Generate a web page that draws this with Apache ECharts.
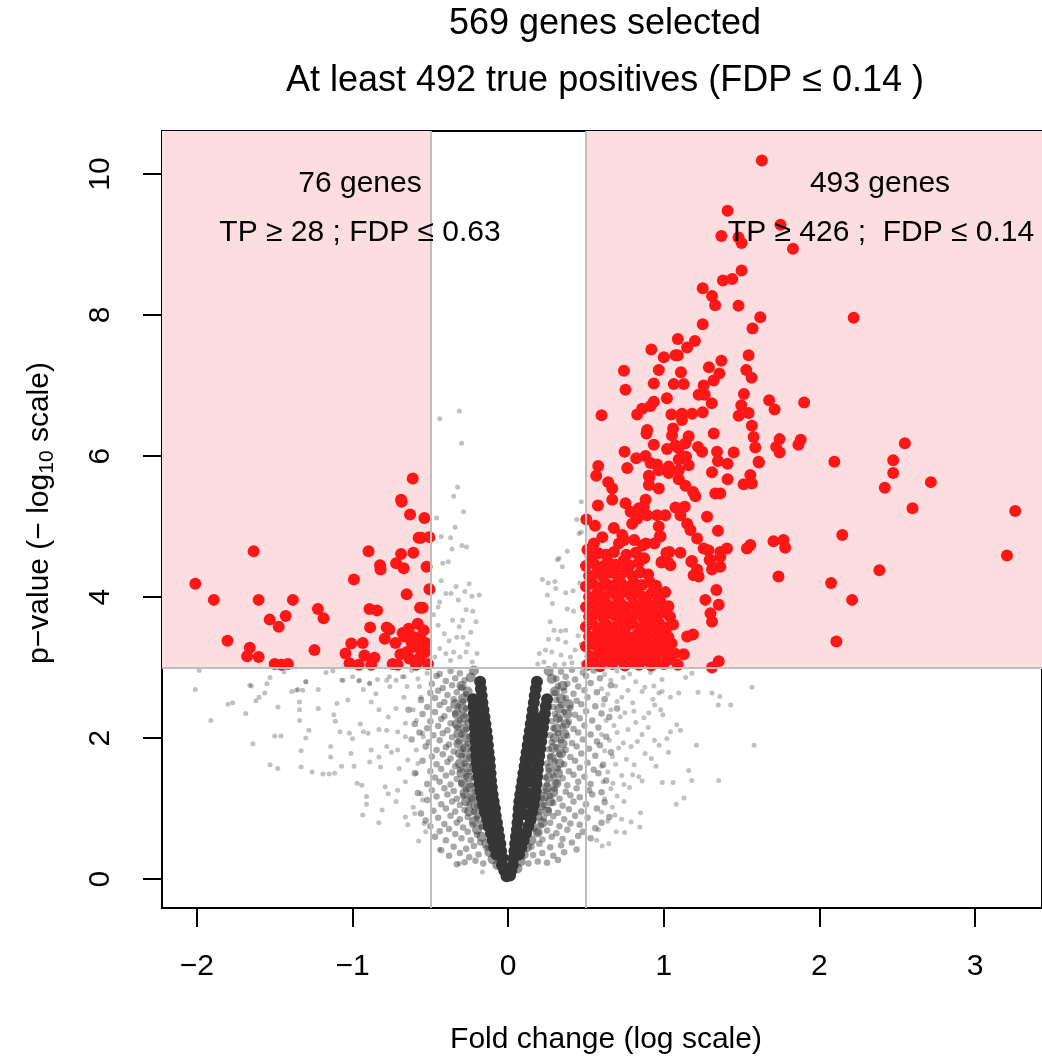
<!DOCTYPE html>
<html>
<head>
<meta charset="utf-8">
<script src="https://cdn.jsdelivr.net/npm/echarts@6/dist/echarts.min.js"></script>
<style>
html,body{margin:0;padding:0;background:#fff;}
#chart{width:1042px;height:1057px;}
</style>
</head>
<body>
<div id="chart"></div>
<script>
// ---------------- data ----------------
const xTicks = [-2, -1, 0, 1, 2, 3];
const yTicks = [0, 2, 4, 6, 8, 10];
const fcCut = 0.5;      // fold-change thresholds (±)
const pCut = 3;         // -log10 p threshold
const xRange = [-2.224, 3.43];
const yRange = [-0.41, 10.61];

const titleLines = ['569 genes selected', 'At least 492 true positives (FDP \u2264 0.14 )'];
const leftNote = ['76 genes', 'TP \u2265 28 ; FDP \u2264 0.63'];
const rightNote = ['493 genes', 'TP \u2265 426 ;  FDP \u2264 0.14'];

// selected genes, left (down-regulated)
const redLeft = [[-0.613,5.68],[-0.688,5.38],[-0.684,5.35],[-0.63,5.17],[-0.538,5.12],[-0.575,4.84],[-0.56,4.84],[-0.506,4.85],[-0.897,4.65],[-1.635,4.65],[-0.688,4.61],[-0.609,4.63],[-0.823,4.45],[-0.82,4.39],[-0.72,4.48],[-0.671,4.41],[-0.524,4.43],[-2.01,4.19],[-0.991,4.25],[-0.506,4.11],[-0.652,4.04],[-1.891,3.96],[-1.603,3.96],[-1.383,3.96],[-1.222,3.83],[-1.186,3.70],[-0.891,3.83],[-0.842,3.81],[-0.566,3.85],[-0.549,3.85],[-1.532,3.68],[-1.429,3.73],[-1.474,3.58],[-0.887,3.57],[-0.78,3.57],[-0.763,3.54],[-0.581,3.62],[-0.639,3.55],[-0.543,3.53],[-1.803,3.38],[-0.793,3.41],[-0.678,3.49],[-0.667,3.44],[-0.603,3.43],[-0.56,3.40],[-1.008,3.34],[-0.934,3.35],[-0.724,3.35],[-1.66,3.28],[-1.677,3.16],[-1.603,3.15],[-1.244,3.25],[-1.045,3.20],[-0.923,3.17],[-0.859,3.14],[-0.692,3.19],[-0.613,3.29],[-0.549,3.27],[-0.534,3.22],[-0.635,3.13],[-0.581,3.11],[-0.56,3.18],[-1.50,3.05],[-1.457,3.04],[-1.415,3.05],[-1.019,3.06],[-0.96,3.04],[-0.88,3.04],[-0.742,3.05],[-0.71,3.04],[-0.592,3.04],[-0.62,3.36],[-0.575,3.30],[-0.53,3.35],[-0.65,3.22],[-0.515,3.05]];

// selected genes, right (up-regulated): sparse part
const redRightSparse = [[1.63,10.19],[1.41,9.48],[1.75,9.28],[1.37,9.12],[1.48,9.10],[1.50,9.02],[1.83,8.94],[1.50,8.63],[1.38,8.49],[1.44,8.51],[1.25,8.38],[1.31,8.27],[1.33,8.14],[1.48,8.13],[1.62,7.97],[2.22,7.96],[1.57,7.81],[1.25,7.87],[1.09,7.66],[1.20,7.63],[1.15,7.54],[0.92,7.51],[1.00,7.40],[1.075,7.43],[1.09,7.43],[1.37,7.35],[1.545,7.43],[0.744,7.21],[0.968,7.22],[1.11,7.19],[1.29,7.26],[1.53,7.22],[1.357,7.17],[1.564,7.11],[1.32,7.07],[0.936,7.03],[1.064,7.02],[1.128,7.02],[0.754,6.94],[1.256,7.0],[1.224,6.87],[1.263,6.87],[1.02,6.82],[1.515,6.88],[1.677,6.79],[1.712,6.66],[1.902,6.76],[0.936,6.77],[0.861,6.67],[0.829,6.59],[0.60,6.58],[1.308,6.75],[1.498,6.72],[1.049,6.59],[1.117,6.60],[1.181,6.60],[1.25,6.62],[1.481,6.57],[1.545,6.61],[0.915,6.71],[1.117,6.51],[1.566,6.43],[1.577,6.27],[1.588,6.12],[1.611,5.91],[1.744,6.24],[1.722,6.13],[1.744,6.05],[1.88,6.23],[1.865,6.16],[0.893,6.37],[0.889,6.32],[1.06,6.39],[1.053,6.29],[1.16,6.28],[1.139,6.18],[1.075,6.15],[1.096,6.11],[0.936,6.16],[1.021,6.10],[0.748,6.06],[1.22,6.13],[1.246,6.06],[1.321,6.32],[1.342,6.06],[1.348,5.93],[1.41,5.89],[1.449,6.05],[0.823,5.97],[0.883,6.0],[0.765,5.83],[0.579,5.86],[0.566,5.72],[0.915,5.90],[0.957,5.88],[0.968,5.80],[0.904,5.72],[1.032,5.85],[1.096,5.80],[1.096,5.95],[1.143,5.99],[1.16,5.87],[1.31,5.77],[1.41,5.67],[1.513,5.60],[1.556,5.73],[1.566,5.61],[1.331,5.47],[1.363,5.47],[1.188,5.49],[1.203,5.43],[1.278,5.14],[1.348,4.94],[1.406,4.69],[1.363,4.64],[1.534,4.69],[1.556,4.74],[1.705,4.79],[1.769,4.81],[1.78,4.70],[1.737,4.29],[1.214,4.83],[1.15,5.04],[1.171,4.95],[1.107,4.63],[1.177,4.50],[1.214,4.39],[1.224,4.29],[1.192,4.31],[1.295,4.53],[1.31,4.39],[1.363,4.43],[1.338,4.10],[1.267,3.96],[1.353,3.89],[1.30,3.77],[1.31,3.65],[1.188,3.47],[1.15,3.44],[1.128,3.19],[1.353,3.09],[1.31,3.0],[1.043,4.45],[0.989,4.50],[1.036,4.64],[2.549,6.18],[2.474,5.94],[2.474,5.76],[2.42,5.55],[2.716,5.63],[2.096,5.92],[2.598,5.26],[3.258,5.22],[3.205,4.59],[2.147,4.88],[2.385,4.38],[2.075,4.20],[2.21,3.96],[2.109,3.37],[1.609,5.92],[0.643,5.63],[0.669,5.54],[0.669,5.38],[0.577,5.30],[0.754,5.33],[0.787,5.21],[0.84,5.26],[0.883,5.38],[0.872,5.28],[0.893,5.16],[0.829,5.11],[0.797,5.04],[0.957,5.16],[1.01,5.16],[0.968,5.0],[0.979,4.86],[1.075,5.27],[1.135,5.28],[1.107,5.16],[0.968,5.54],[0.908,5.70],[0.904,5.59],[1.032,5.76],[1.096,5.67],[1.139,5.58],[0.502,5.10],[0.509,4.67],[0.558,5.01],[0.551,4.76],[0.605,4.85],[0.679,4.98],[0.733,4.88],[0.712,4.76],[0.744,4.81],[0.81,4.81],[0.863,4.73],[0.885,4.76],[0.874,4.55],[0.94,4.76],[0.974,4.86],[1.017,4.63],[0.985,4.49],[1.028,4.49],[1.181,4.51],[1.256,4.69],[1.288,4.66],[1.30,4.52],[1.363,4.57]];

// selected genes, right: the dense block near the thresholds
const redRightDense = [[0.51,3.04],[0.55,3.08],[0.59,3.02],[0.63,3.10],[0.67,3.05],[0.71,3.12],[0.75,3.03],[0.79,3.09],[0.84,3.04],[0.88,3.11],[0.92,3.03],[0.96,3.08],[1.00,3.05],[1.04,3.12],[1.09,3.04],[0.53,3.16],[0.58,3.20],[0.62,3.17],[0.66,3.22],[0.70,3.18],[0.74,3.23],[0.78,3.17],[0.82,3.21],[0.86,3.16],[0.90,3.22],[0.94,3.18],[0.98,3.24],[1.02,3.19],[1.07,3.20],[0.50,3.30],[0.55,3.33],[0.60,3.28],[0.64,3.34],[0.68,3.30],[0.73,3.36],[0.77,3.29],[0.81,3.33],[0.85,3.28],[0.89,3.35],[0.93,3.31],[0.97,3.37],[1.01,3.30],[1.05,3.34],[0.52,3.44],[0.57,3.48],[0.61,3.42],[0.65,3.47],[0.70,3.44],[0.74,3.50],[0.78,3.43],[0.83,3.47],[0.87,3.42],[0.91,3.49],[0.95,3.45],[0.99,3.50],[1.03,3.43],[0.50,3.58],[0.54,3.62],[0.59,3.56],[0.63,3.61],[0.67,3.57],[0.72,3.63],[0.76,3.58],[0.80,3.62],[0.85,3.56],[0.89,3.64],[0.93,3.59],[0.97,3.63],[1.02,3.57],[1.06,3.61],[0.52,3.72],[0.56,3.76],[0.61,3.71],[0.65,3.77],[0.69,3.73],[0.74,3.78],[0.78,3.72],[0.82,3.76],[0.87,3.70],[0.91,3.77],[0.95,3.73],[1.00,3.78],[1.04,3.72],[0.50,3.86],[0.55,3.90],[0.59,3.85],[0.63,3.91],[0.68,3.87],[0.72,3.92],[0.76,3.86],[0.81,3.90],[0.85,3.85],[0.89,3.92],[0.94,3.88],[0.98,3.93],[1.03,3.87],[0.52,4.00],[0.57,4.05],[0.61,4.00],[0.66,4.06],[0.70,4.01],[0.74,4.07],[0.79,4.02],[0.83,4.06],[0.87,4.00],[0.92,4.05],[0.96,4.02],[1.01,4.07],[0.50,4.15],[0.54,4.20],[0.59,4.14],[0.63,4.19],[0.68,4.16],[0.72,4.22],[0.77,4.15],[0.81,4.20],[0.86,4.17],[0.91,4.21],[0.95,4.16],[0.52,4.30],[0.57,4.34],[0.61,4.29],[0.66,4.35],[0.70,4.31],[0.75,4.36],[0.80,4.30],[0.85,4.35],[0.90,4.32],[0.50,4.44],[0.55,4.48],[0.60,4.43],[0.64,4.50],[0.69,4.46],[0.74,4.51],[0.78,4.45],[0.84,4.49],[0.53,4.58],[0.58,4.62],[0.63,4.60],[0.68,4.64],[0.76,4.60],[0.82,4.63]];

// not selected genes: dense core of the volcano
const greyCore = [[-0.01,0.04],[0.012,0.05],[-0.025,0.12],[0.02,0.12],[-0.04,0.2],[0.03,0.2],[-0.035,0.3],[-0.075,0.35],[-0.045,0.4],[-0.09,0.45],[-0.05,0.5],[-0.1,0.55],[-0.058,0.6],[-0.11,0.65],[-0.065,0.7],[-0.125,0.75],[-0.072,0.8],[-0.135,0.85],[-0.08,0.9],[-0.15,0.95],[-0.085,1.0],[-0.16,1.05],[-0.093,1.1],[-0.17,1.15],[-0.1,1.2],[-0.178,1.25],[-0.105,1.3],[-0.185,1.35],[-0.11,1.4],[-0.19,1.45],[-0.113,1.5],[-0.197,1.55],[-0.117,1.6],[-0.202,1.65],[-0.12,1.7],[-0.205,1.75],[-0.126,1.8],[-0.208,1.85],[-0.13,1.9],[-0.21,1.95],[-0.134,2.0],[-0.212,2.05],[-0.14,2.1],[-0.215,2.15],[-0.146,2.2],[-0.218,2.25],[-0.152,2.3],[-0.22,2.35],[-0.158,2.4],[-0.222,2.45],[-0.165,2.5],[-0.225,2.55],[-0.17,2.6],[-0.175,2.7],[-0.18,2.8],[-0.12,0.92],[-0.13,1.08],[-0.14,1.22],[-0.15,1.38],[-0.155,1.52],[-0.16,1.68],[-0.165,1.82],[-0.17,1.98],[-0.178,2.12],[-0.185,2.28],[0.035,0.3],[0.07,0.35],[0.04,0.4],[0.085,0.45],[0.045,0.5],[0.1,0.55],[0.05,0.6],[0.115,0.65],[0.056,0.7],[0.13,0.75],[0.06,0.8],[0.145,0.85],[0.065,0.9],[0.155,0.95],[0.068,1.0],[0.165,1.05],[0.072,1.1],[0.172,1.15],[0.078,1.2],[0.178,1.25],[0.085,1.3],[0.182,1.35],[0.092,1.4],[0.186,1.45],[0.098,1.5],[0.19,1.55],[0.106,1.6],[0.195,1.65],[0.112,1.7],[0.2,1.75],[0.119,1.8],[0.206,1.85],[0.126,1.9],[0.212,1.95],[0.132,2.0],[0.218,2.05],[0.139,2.1],[0.224,2.15],[0.145,2.2],[0.23,2.25],[0.152,2.3],[0.236,2.35],[0.158,2.4],[0.242,2.45],[0.165,2.5],[0.25,2.55],[0.171,2.6],[0.178,2.7],[0.185,2.8],[0.1,0.92],[0.115,1.08],[0.125,1.22],[0.138,1.38],[0.145,1.52],[0.152,1.68],[0.162,1.82],[0.172,1.98],[0.18,2.12],[0.19,2.28]];

// not selected genes: halo around the core
const greyHalo = [[-0.14,0.5],[-0.17,0.6],[-0.2,0.7],[-0.16,0.78],[-0.22,0.82],[-0.19,0.92],[-0.25,0.96],[-0.21,1.04],[-0.27,1.1],[-0.23,1.16],[-0.28,1.22],[-0.24,1.3],[-0.29,1.36],[-0.25,1.44],[-0.3,1.5],[-0.26,1.58],[-0.31,1.64],[-0.26,1.72],[-0.31,1.78],[-0.27,1.86],[-0.32,1.92],[-0.27,2.0],[-0.32,2.06],[-0.28,2.14],[-0.33,2.2],[-0.28,2.28],[-0.33,2.34],[-0.29,2.42],[-0.34,2.48],[-0.29,2.56],[-0.26,2.66],[-0.3,2.74],[-0.24,2.86],[-0.22,2.96],[-0.12,0.38],[-0.1,0.28],[-0.07,0.2],[0.12,0.45],[0.15,0.55],[0.19,0.66],[0.16,0.74],[0.22,0.8],[0.19,0.9],[0.25,0.96],[0.21,1.04],[0.27,1.1],[0.23,1.17],[0.29,1.23],[0.25,1.3],[0.31,1.36],[0.26,1.44],[0.32,1.5],[0.27,1.58],[0.33,1.64],[0.28,1.72],[0.34,1.78],[0.29,1.86],[0.35,1.92],[0.3,2.0],[0.36,2.06],[0.31,2.14],[0.37,2.2],[0.32,2.28],[0.38,2.34],[0.33,2.42],[0.39,2.48],[0.34,2.56],[0.3,2.66],[0.35,2.74],[0.28,2.84],[0.26,2.95],[0.1,0.35],[0.08,0.25],[0.06,0.15]];

// not selected genes: cloud around the core
const greyCloudLeft = [[-0.16,0.22],[-0.21,0.26],[-0.28,0.24],[-0.33,0.21],[-0.19,0.35],[-0.25,0.31],[-0.31,0.37],[-0.38,0.33],[-0.43,0.41],[-0.14,0.44],[-0.22,0.47],[-0.27,0.43],[-0.35,0.46],[-0.18,0.52],[-0.24,0.55],[-0.3,0.58],[-0.4,0.55],[-0.47,0.6],[-0.2,0.63],[-0.26,0.67],[-0.34,0.64],[-0.38,0.71],[-0.44,0.68],[-0.17,0.74],[-0.23,0.77],[-0.29,0.73],[-0.33,0.8],[-0.41,0.78],[-0.5,0.75],[-0.2,0.86],[-0.26,0.88],[-0.31,0.85],[-0.37,0.9],[-0.45,0.87],[-0.53,0.83],[-0.22,0.95],[-0.28,0.98],[-0.34,0.96],[-0.4,1.0],[-0.48,0.97],[-0.56,0.93],[-0.2,1.04],[-0.25,1.07],[-0.31,1.05],[-0.36,1.1],[-0.43,1.06],[-0.52,1.12],[-0.23,1.15],[-0.29,1.18],[-0.33,1.14],[-0.39,1.2],[-0.46,1.17],[-0.21,1.24],[-0.27,1.27],[-0.35,1.25],[-0.41,1.29],[-0.49,1.26],[-0.58,1.22],[-0.24,1.33],[-0.3,1.36],[-0.37,1.34],[-0.44,1.38],[-0.52,1.35],[-0.22,1.43],[-0.27,1.46],[-0.33,1.42],[-0.4,1.47],[-0.47,1.44],[-0.25,1.52],[-0.31,1.55],[-0.36,1.51],[-0.43,1.56],[-0.5,1.53],[-0.6,1.5],[-0.23,1.61],[-0.28,1.64],[-0.34,1.6],[-0.39,1.66],[-0.46,1.63],[-0.55,1.68],[-0.25,1.72],[-0.3,1.75],[-0.37,1.71],[-0.42,1.77],[-0.49,1.74],[-0.24,1.82],[-0.29,1.85],[-0.35,1.81],[-0.4,1.87],[-0.46,1.83],[-0.53,1.88],[-0.26,1.92],[-0.32,1.95],[-0.38,1.91],[-0.44,1.97],[-0.51,1.94],[-0.62,1.98],[-0.25,2.02],[-0.3,2.05],[-0.36,2.01],[-0.42,2.07],[-0.48,2.04],[-0.57,2.08],[-0.27,2.12],[-0.33,2.15],[-0.39,2.11],[-0.45,2.17],[-0.52,2.14],[-0.26,2.22],[-0.31,2.25],[-0.37,2.21],[-0.43,2.27],[-0.5,2.24],[-0.6,2.2],[-0.28,2.32],[-0.34,2.35],[-0.41,2.31],[-0.47,2.37],[-0.55,2.34],[-0.27,2.42],[-0.32,2.45],[-0.38,2.41],[-0.44,2.47],[-0.52,2.44],[-0.64,2.4],[-0.29,2.52],[-0.35,2.55],[-0.41,2.51],[-0.47,2.57],[-0.56,2.54],[-0.27,2.62],[-0.33,2.65],[-0.39,2.61],[-0.45,2.67],[-0.5,2.64],[-0.3,2.72],[-0.36,2.75],[-0.42,2.71],[-0.49,2.77],[-0.28,2.82],[-0.34,2.85],[-0.4,2.81],[-0.46,2.88],[-0.31,2.92],[-0.37,2.95],[-0.44,2.91]];
const greyCloudRight = [[0.13,0.22],[0.19,0.25],[0.25,0.23],[0.32,0.27],[0.16,0.34],[0.22,0.37],[0.29,0.33],[0.36,0.38],[0.44,0.42],[0.15,0.46],[0.2,0.5],[0.27,0.45],[0.34,0.48],[0.41,0.52],[0.22,0.56],[0.28,0.6],[0.35,0.57],[0.45,0.61],[0.53,0.58],[0.19,0.66],[0.25,0.69],[0.31,0.65],[0.38,0.7],[0.48,0.67],[0.56,0.72],[0.21,0.76],[0.27,0.8],[0.33,0.75],[0.4,0.79],[0.46,0.77],[0.6,0.8],[0.23,0.86],[0.29,0.89],[0.36,0.85],[0.43,0.9],[0.51,0.87],[0.65,0.88],[0.2,0.95],[0.26,0.98],[0.32,0.94],[0.39,0.99],[0.47,0.96],[0.57,1.0],[0.23,1.05],[0.29,1.08],[0.35,1.04],[0.42,1.1],[0.5,1.06],[0.62,1.09],[0.22,1.15],[0.27,1.18],[0.33,1.14],[0.4,1.19],[0.46,1.16],[0.54,1.2],[0.24,1.25],[0.3,1.28],[0.37,1.24],[0.44,1.29],[0.52,1.26],[0.6,1.23],[0.25,1.34],[0.31,1.37],[0.38,1.33],[0.45,1.38],[0.53,1.35],[0.63,1.4],[0.24,1.44],[0.29,1.47],[0.35,1.43],[0.42,1.48],[0.49,1.45],[0.58,1.5],[0.26,1.54],[0.32,1.57],[0.39,1.53],[0.46,1.58],[0.55,1.55],[0.25,1.64],[0.3,1.67],[0.36,1.63],[0.43,1.68],[0.51,1.65],[0.61,1.62],[0.27,1.74],[0.33,1.77],[0.4,1.73],[0.47,1.78],[0.56,1.75],[0.66,1.8],[0.26,1.84],[0.31,1.87],[0.37,1.83],[0.44,1.88],[0.52,1.85],[0.59,1.9],[0.28,1.94],[0.34,1.97],[0.41,1.93],[0.48,1.98],[0.57,1.95],[0.27,2.04],[0.32,2.07],[0.38,2.03],[0.45,2.08],[0.53,2.05],[0.63,2.02],[0.29,2.14],[0.35,2.17],[0.42,2.13],[0.49,2.18],[0.58,2.15],[0.28,2.24],[0.33,2.27],[0.39,2.23],[0.46,2.28],[0.54,2.25],[0.65,2.3],[0.3,2.34],[0.36,2.37],[0.43,2.33],[0.5,2.38],[0.6,2.35],[0.29,2.44],[0.34,2.47],[0.4,2.43],[0.47,2.48],[0.56,2.45],[0.7,2.42],[0.31,2.54],[0.37,2.57],[0.44,2.53],[0.51,2.58],[0.62,2.55],[0.3,2.64],[0.36,2.67],[0.42,2.63],[0.49,2.68],[0.57,2.65],[0.32,2.74],[0.38,2.77],[0.45,2.73],[0.53,2.78],[0.66,2.75],[0.31,2.84],[0.37,2.87],[0.43,2.83],[0.5,2.88],[0.59,2.85],[0.34,2.94],[0.41,2.97],[0.48,2.93],[0.55,2.96]];

// not selected genes: sparse outer points
const greyOuterLeft = [[-0.934,0.91],[-0.831,0.80],[-0.645,0.77],[-0.575,0.54],[-0.442,0.42],[-0.314,0.22],[-0.165,0.10],[-2.01,2.69],[-1.91,2.25],[-1.80,2.48],[-1.77,2.50],[-1.686,2.35],[-1.64,1.92],[-1.62,2.53],[-1.60,2.58],[-1.564,2.64],[-1.53,1.62],[-1.48,1.57],[-1.50,2.03],[-1.46,2.03],[-1.479,2.44],[-1.55,2.77],[-1.66,2.75],[-1.985,2.96],[-1.39,2.66],[-1.35,2.69],[-1.32,2.68],[-1.34,2.51],[-1.34,2.40],[-1.34,2.25],[-1.33,1.82],[-1.33,1.59],[-1.30,2.80],[-1.28,2.11],[-1.30,2.0],[-1.26,1.52],[-1.22,2.69],[-1.22,2.42],[-1.19,1.49],[-1.15,1.49],[-1.115,1.50],[-1.17,2.93],[-1.14,1.88],[-1.14,1.73],[-1.12,2.33],[-1.11,2.24],[-1.08,2.09],[-1.10,2.49],[-1.07,1.60],[-1.07,2.82],[-1.03,2.54],[-1.02,2.07],[-1.0,1.99],[-1.01,1.78],[-0.99,1.60],[-0.96,2.81],[-0.93,2.69],[-0.97,1.36],[-0.94,1.33],[-0.95,2.2],[-0.93,2.09],[-0.9,2.07],[-0.91,1.17],[-0.91,1.06],[-0.89,2.77],[-0.88,2.51],[-0.88,1.83],[-0.89,1.66],[-0.85,2.63],[-0.83,2.40],[-0.83,2.12],[-0.83,1.73],[-0.82,1.59],[-0.79,1.31],[-0.77,1.21],[-0.81,0.98],[-0.78,2.82],[-0.76,2.73],[-0.77,2.30],[-0.78,2.11],[-0.78,1.88],[-0.75,1.80],[-0.72,2.42],[-0.71,2.09],[-0.71,1.83],[-0.70,1.57],[-0.72,1.10],[-0.71,1.26],[-0.68,2.87],[-0.65,2.73],[-0.67,2.58],[-0.66,2.21],[-0.66,2.02],[-0.645,1.69],[-0.66,1.38],[-0.66,0.88],[-0.61,1.02],[-0.60,0.93],[-0.61,2.40],[-0.59,2.25],[-0.59,1.83],[-0.58,1.64],[-0.59,1.50],[-0.57,2.73],[-0.56,2.58],[-0.55,2.07],[-0.545,2.02],[-0.56,1.21],[-0.55,1.12],[-0.54,0.79],[-0.53,0.67],[-0.52,2.92],[-1.65,2.74],[-1.53,2.86],[-1.44,2.94],[-1.36,2.68],[-1.30,2.80],[-1.126,2.95],[-1.06,2.82],[-1.0,2.87],[-0.955,2.82],[-0.89,2.78],[-0.84,2.83],[-0.763,2.87],[-0.72,2.82],[-0.667,2.87],[-0.62,2.96],[-0.58,2.84]];
const greyOuterRight = [[1.566,2.72],[1.58,1.90],[1.43,2.47],[1.35,2.47],[1.36,2.59],[1.31,2.64],[1.22,2.65],[1.353,1.40],[1.18,1.40],[1.16,1.54],[1.21,1.90],[1.13,1.15],[1.08,1.06],[1.06,1.37],[0.99,1.37],[1.03,1.80],[1.02,1.99],[0.97,1.90],[0.94,1.97],[1.083,2.19],[1.107,2.11],[1.043,2.09],[1.18,2.92],[1.14,2.86],[1.096,2.64],[1.043,2.58],[0.989,2.83],[0.989,2.66],[0.936,2.74],[0.942,2.47],[0.994,2.33],[0.904,2.36],[0.872,2.29],[0.808,2.38],[0.84,1.45],[0.861,1.39],[0.80,1.48],[0.85,0.94],[0.846,0.74],[0.79,0.81],[0.748,0.66],[0.694,0.67],[0.647,0.50],[0.604,0.47],[0.569,0.55],[0.744,1.34],[0.673,1.36],[0.744,1.10],[0.729,0.85],[0.686,0.91],[0.915,2.93],[0.968,2.64],[0.878,2.72],[0.861,2.66],[0.92,1.71],[0.62,2.9],[0.66,2.82],[0.7,2.95],[0.74,2.86],[0.78,2.91],[0.82,2.8],[0.6,2.7],[0.64,2.62],[0.69,2.74],[0.73,2.58],[0.77,2.68],[0.61,2.47],[0.66,2.4],[0.7,2.52],[0.75,2.36],[0.8,2.5],[0.63,2.25],[0.68,2.18],[0.72,2.3],[0.77,2.12],[0.82,2.22],[0.86,2.05],[0.6,2.05],[0.65,1.97],[0.7,2.08],[0.74,1.93],[0.79,1.88],[0.62,1.82],[0.67,1.74],[0.71,1.86],[0.76,1.7],[0.81,1.62],[0.6,1.6],[0.64,1.52],[0.69,1.63],[0.73,1.47],[0.78,1.3],[0.61,1.38],[0.66,1.28],[0.7,1.18],[0.62,1.14],[0.67,1.02],[0.6,0.95],[0.64,0.82],[0.58,0.7],[0.93,2.55],[0.9,2.15],[0.98,2.4],[0.88,1.78],[0.95,1.6],[0.83,1.95]];

// not selected genes above the p threshold (between the fold-change lines)
const greyAbove = [[-0.44,6.53],[-0.314,6.64],[-0.30,6.18],[-0.325,5.56],[-0.35,5.43],[-0.287,5.21],[-0.46,5.12],[-0.34,4.99],[-0.37,4.84],[-0.36,4.68],[-0.43,4.86],[-0.297,4.73],[-0.267,4.71],[-0.42,4.48],[-0.385,4.50],[-0.43,4.23],[-0.335,4.15],[-0.278,4.08],[-0.25,4.19],[-0.40,4.05],[-0.367,4.05],[-0.44,3.93],[-0.45,3.86],[-0.32,3.96],[-0.233,4.01],[-0.186,4.03],[-0.27,3.82],[-0.228,3.80],[-0.357,3.67],[-0.293,3.67],[-0.314,3.58],[-0.207,3.65],[-0.41,3.48],[-0.38,3.38],[-0.33,3.43],[-0.29,3.43],[-0.24,3.5],[-0.4,3.2],[-0.35,3.22],[-0.31,3.15],[-0.27,3.22],[-0.23,3.08],[-0.37,3.1],[-0.44,3.27],[-0.47,3.15],[-0.2,3.2],[-0.26,3.33],[-0.45,3.6],[-0.48,3.75],[0.38,4.65],[0.348,4.43],[0.316,4.53],[0.327,4.55],[0.455,4.90],[0.47,4.92],[0.22,4.25],[0.258,4.20],[0.30,4.22],[0.252,4.03],[0.306,4.12],[0.37,4.06],[0.417,4.09],[0.284,3.91],[0.38,3.83],[0.42,3.80],[0.27,3.65],[0.295,3.53],[0.338,3.52],[0.37,3.53],[0.26,3.4],[0.32,3.4],[0.37,3.36],[0.45,3.45],[0.47,3.33],[0.2,3.2],[0.24,3.25],[0.28,3.22],[0.34,3.18],[0.4,3.15],[0.43,3.25],[0.19,3.05],[0.23,3.08],[0.3,3.04],[0.36,3.05],[0.41,3.07],[0.48,3.06],[0.46,4.2],[0.48,4.45],[0.44,5.1],[0.47,5.35]];

// ---------------- chart ----------------
const FONT = '"Liberation Sans", Arial, Helvetica, sans-serif';
const minus = v => (v < 0 ? '\u2212' + Math.abs(v) : String(v));
const chart = echarts.init(document.getElementById('chart'), null, {renderer: 'canvas'});

const axisCommon = {
  type: 'value',
  axisLine: {show: true, onZero: false, lineStyle: {color: '#000', width: 2}},
  splitLine: {show: false}
};

const option = {
  animation: false,
  backgroundColor: '#ffffff',
  grid: {left: 162, right: -2, top: 131, bottom: 149, show: true, borderColor: '#000', borderWidth: 2, backgroundColor: 'rgba(0,0,0,0)'},
  xAxis: Object.assign({}, axisCommon, {
    min: xRange[0], max: xRange[1], position: 'bottom',
    axisTick: {show: true, inside: false, customValues: xTicks, length: 19, lineStyle: {color: '#000', width: 2}},
    axisLabel: {show: true, customValues: xTicks, formatter: minus, fontSize: 30, fontFamily: FONT, color: '#000', margin: 44}
  }),
  yAxis: Object.assign({}, axisCommon, {
    min: yRange[0], max: yRange[1], position: 'left',
    axisTick: {show: true, inside: false, customValues: yTicks, length: 19, lineStyle: {color: '#000', width: 2}},
    axisLabel: {show: true, customValues: yTicks, formatter: minus, fontSize: 30, fontFamily: FONT, color: '#000', margin: 46, rotate: 90}
  }),
  series: [
    {
      name: 'regions', type: 'scatter', data: [], z: 1, silent: true,
      markArea: {
        silent: true, itemStyle: {color: 'rgb(253,222,224)', opacity: 1},
        data: [
          [{coord: [xRange[0], pCut]}, {coord: [-fcCut, yRange[1]]}],
          [{coord: [fcCut, pCut]}, {coord: [xRange[1], yRange[1]]}]
        ]
      },
      markLine: {
        silent: true, symbol: ['none', 'none'], label: {show: false},
        lineStyle: {color: '#BEBEBE', width: 2, type: 'solid'},
        data: [{xAxis: -fcCut}, {xAxis: fcCut}, {yAxis: pCut}]
      }
    },
    {name: 'outer', type: 'scatter', z: 3, silent: true, symbolSize: 5, itemStyle: {color: '#333333', opacity: 0.3},
      data: greyOuterLeft.concat(greyOuterRight, greyAbove)},
    {name: 'cloud', type: 'scatter', z: 3, silent: true, symbolSize: 6.5, itemStyle: {color: '#333333', opacity: 0.42},
      data: greyCloudLeft.concat(greyCloudRight)},
    {name: 'halo', type: 'scatter', z: 3, silent: true, symbolSize: 10, itemStyle: {color: '#333333', opacity: 0.5},
      data: greyHalo},
    {name: 'core', type: 'scatter', z: 3, silent: true, symbolSize: 12, itemStyle: {color: '#363636', opacity: 1},
      data: greyCore},
    {name: 'selected', type: 'scatter', z: 4, silent: true, symbolSize: 12, itemStyle: {color: '#FF1616', opacity: 1},
      data: redLeft.concat(redRightDense, redRightSparse)}
  ],
  graphic: [
    {type: 'text', x: 605, y: 24, style: {text: titleLines[0], font: '36px ' + FONT, fill: '#000', align: 'center', verticalAlign: 'middle'}},
    {type: 'text', x: 605, y: 81, style: {text: titleLines[1], font: '36px ' + FONT, fill: '#000', align: 'center', verticalAlign: 'middle'}},
    {type: 'text', x: 360, y: 184, z: 10, style: {text: leftNote[0], font: '30px ' + FONT, fill: '#000', align: 'center', verticalAlign: 'middle'}},
    {type: 'text', x: 360, y: 233, z: 10, style: {text: leftNote[1], font: '30px ' + FONT, fill: '#000', align: 'center', verticalAlign: 'middle'}},
    {type: 'text', x: 880, y: 184, z: 10, style: {text: rightNote[0], font: '30px ' + FONT, fill: '#000', align: 'center', verticalAlign: 'middle'}},
    {type: 'text', x: 881, y: 233, z: 10, style: {text: rightNote[1], font: '30px ' + FONT, fill: '#000', align: 'center', verticalAlign: 'middle'}},
    {type: 'text', x: 606, y: 1040, style: {text: 'Fold change (log scale)', font: '30px ' + FONT, fill: '#000', align: 'center', verticalAlign: 'middle'}},
    {type: 'text', x: 40, y: 513, rotation: Math.PI / 2, style: {
      text: '{a|p\u2212value (\u2212 log}{s|10}{a| scale)}', align: 'center', verticalAlign: 'middle',
      rich: {a: {fontSize: 30, fontFamily: FONT, fill: '#000', color: '#000'}, s: {fontSize: 21, fontFamily: FONT, color: '#000', fill: '#000', padding: [14, 0, 0, 0]}}
    }}
  ]
};
chart.setOption(option);
</script>
</body>
</html>
